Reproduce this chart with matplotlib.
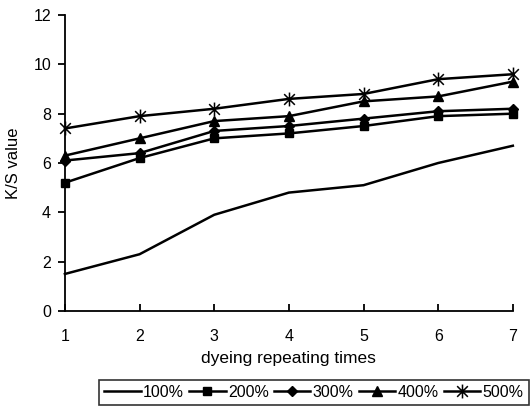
import matplotlib
matplotlib.use("Agg")
import matplotlib.pyplot as plt
from matplotlib.path import Path

times = [1, 2, 3, 4, 5, 6, 7]
series_labels = ["100%", "200%", "300%", "400%", "500%"]
v100 = [1.5, 2.3, 3.9, 4.8, 5.1, 6.0, 6.7]
v200 = [5.2, 6.2, 7.0, 7.2, 7.5, 7.9, 8.0]
v300 = [6.1, 6.4, 7.3, 7.5, 7.8, 8.1, 8.2]
v400 = [6.3, 7.0, 7.7, 7.9, 8.5, 8.7, 9.3]
v500 = [7.4, 7.9, 8.2, 8.6, 8.8, 9.4, 9.6]
yticks = [0, 2, 4, 6, 8, 10, 12]

plt.rcParams['font.family'] = ['Liberation Sans', 'DejaVu Sans']

# asterisk marker: X plus vertical line
star_path = Path(
    [(-1, -1), (1, 1), (-1, 1), (1, -1), (0, -1.3), (0, 1.3)],
    [Path.MOVETO, Path.LINETO, Path.MOVETO, Path.LINETO, Path.MOVETO, Path.LINETO])

fig = plt.figure(figsize=(5.32, 4.07), dpi=100)
ax = fig.add_axes([0.122, 0.236, 0.842, 0.727])

lw = 1.8
ax.plot(times, v100, color='black', lw=lw, label=series_labels[0], clip_on=False)
ax.plot(times, v200, color='black', lw=lw, marker='s', ms=6, label=series_labels[1], clip_on=False)
ax.plot(times, v300, color='black', lw=lw, marker='D', ms=5.5, label=series_labels[2], clip_on=False)
ax.plot(times, v400, color='black', lw=lw, marker='^', ms=6.5, label=series_labels[3], clip_on=False)
ax.plot(times, v500, color='black', lw=lw, marker=star_path, ms=10, mew=1.1,
        mfc='none', mec='black', label=series_labels[4], clip_on=False)

ax.set_xlim(1, 7)
ax.set_ylim(0, 12)
ax.set_xticks(times)
ax.set_yticks(yticks)
for s in ['top', 'right']:
    ax.spines[s].set_visible(False)
for s in ['left', 'bottom']:
    ax.spines[s].set_linewidth(1.3)
ax.tick_params(axis='x', direction='in', length=5, width=1.3, pad=13, labelsize=11.5)
ax.tick_params(axis='y', direction='out', length=5, width=1.3, pad=5, labelsize=11.5)
ax.set_xlabel("dyeing repeating times", fontsize=12.5, labelpad=5)
ax.set_ylabel("K/S value", fontsize=12, labelpad=9)

leg = fig.legend(loc='center', bbox_to_anchor=(0.59, 0.036), ncol=5, fontsize=11.5,
                 frameon=True, fancybox=False, edgecolor='black', handlelength=2.3,
                 handletextpad=0.15, columnspacing=0.3, borderpad=0.3, borderaxespad=0)
leg.get_frame().set_linewidth(1.2)

fig.savefig("out.png", dpi=100)
